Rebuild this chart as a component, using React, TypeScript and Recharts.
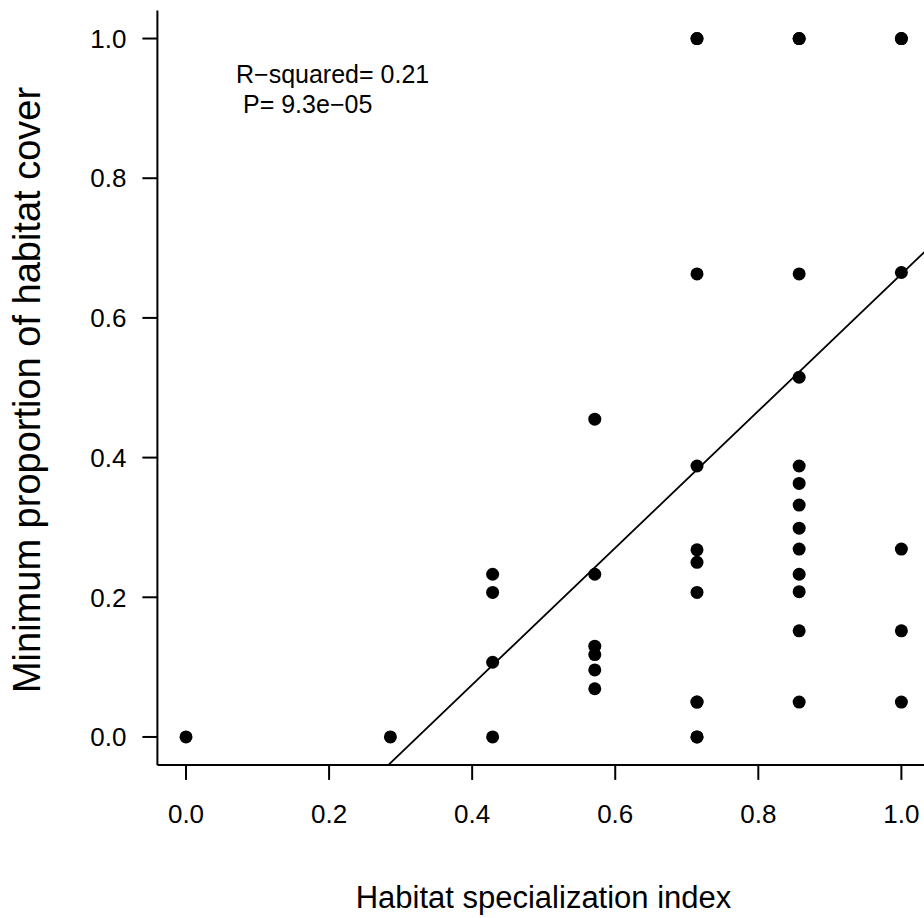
import { ScatterChart, Scatter, XAxis, YAxis, ReferenceLine } from 'recharts';

// x levels of the habitat specialization index (k/7)
const xLevels = [0, 0.2857, 0.4286, 0.5714, 0.7143, 0.8571, 1.0];

// y values per x level (repeated values = overplotted points)
const yAt0 = [0];
const yAt286 = [0];
const yAt429 = [0.233, 0.207, 0.107, 0];
const yAt571 = [0.455, 0.233, 0.13, 0.118, 0.096, 0.069];
const yAt714 = [1, 1, 0.663, 0.388, 0.268, 0.25, 0.207, 0.05, 0.05, 0, 0];
const yAt857 = [1, 1, 0.663, 0.515, 0.388, 0.363, 0.332, 0.299, 0.269, 0.233, 0.208, 0.152, 0.05];
const yAt1 = [1, 1, 0.665, 0.269, 0.152, 0.05];
const yColumns = [yAt0, yAt286, yAt429, yAt571, yAt714, yAt857, yAt1];

// fitted regression line, ends
const fitX = [0.283, 1.04];
const fitY = [-0.04, 0.702];

const xTicks = [0, 0.2, 0.4, 0.6, 0.8, 1.0];
const yTicks = [0, 0.2, 0.4, 0.6, 0.8, 1.0];

const annotation = ['R\u2212squared= 0.21', 'P= 9.3e\u221205'];
const xTitle = 'Habitat specialization index';
const yTitle = 'Minimum proportion of habitat cover';

const points = xLevels.flatMap((x, i) => yColumns[i].map((y) => ({ x, y })));

const FONT = '"Liberation Sans", Arial, Helvetica, sans-serif';

function Dot(props: { cx?: number; cy?: number }) {
  if (props.cx == null || props.cy == null) return null;
  return <circle cx={props.cx} cy={props.cy} r={6.5} fill="#000" />;
}

export default function App() {
  const axisStyle = { stroke: '#000', strokeWidth: 2 };
  return (
    <div style={{ position: 'absolute', left: 0, top: 0, width: 924, height: 918, overflow: 'hidden', background: '#fff', fontFamily: FONT }}>
      <ScatterChart width={930} height={918} margin={{ top: 10.6, right: 0, bottom: 0, left: 0 }}>
        <XAxis
          type="number"
          dataKey="x"
          domain={[-0.04, 1.04]}
          ticks={xTicks}
          allowDataOverflow
          height={153.1}
          tickFormatter={(v: number) => v.toFixed(1)}
          tickSize={15}
          tickMargin={25}
          axisLine={axisStyle}
          tickLine={axisStyle}
          tick={{ fill: '#000', fontSize: 26, fontFamily: FONT }}
        />
        <YAxis
          type="number"
          dataKey="y"
          domain={[-0.04, 1.04]}
          ticks={yTicks}
          allowDataOverflow
          width={157.4}
          tickFormatter={(v: number) => v.toFixed(1)}
          tickSize={15}
          tickMargin={16}
          axisLine={axisStyle}
          tickLine={axisStyle}
          tick={{ fill: '#000', fontSize: 26, fontFamily: FONT }}
        />
        <ReferenceLine
          segment={[{ x: fitX[0], y: fitY[0] }, { x: fitX[1], y: fitY[1] }]}
          stroke="#000"
          strokeWidth={1.8}
          ifOverflow="visible"
        />
        <Scatter data={points} shape={<Dot />} isAnimationActive={false} />
      </ScatterChart>
      <svg width={924} height={918} style={{ position: 'absolute', left: 0, top: 0, pointerEvents: 'none' }}>
        <text x={236} y={83} fontSize={25} fontFamily={FONT} fill="#000">{annotation[0]}</text>
        <text x={243} y={113} fontSize={25} fontFamily={FONT} fill="#000">{annotation[1]}</text>
        <text x={543.5} y={908} fontSize={31} fontFamily={FONT} fill="#000" textAnchor="middle">{xTitle}</text>
        <text x={0} y={0} fontSize={38} fontFamily={FONT} fill="#000" textAnchor="middle" transform="translate(40 390) rotate(-90)">{yTitle}</text>
      </svg>
    </div>
  );
}
